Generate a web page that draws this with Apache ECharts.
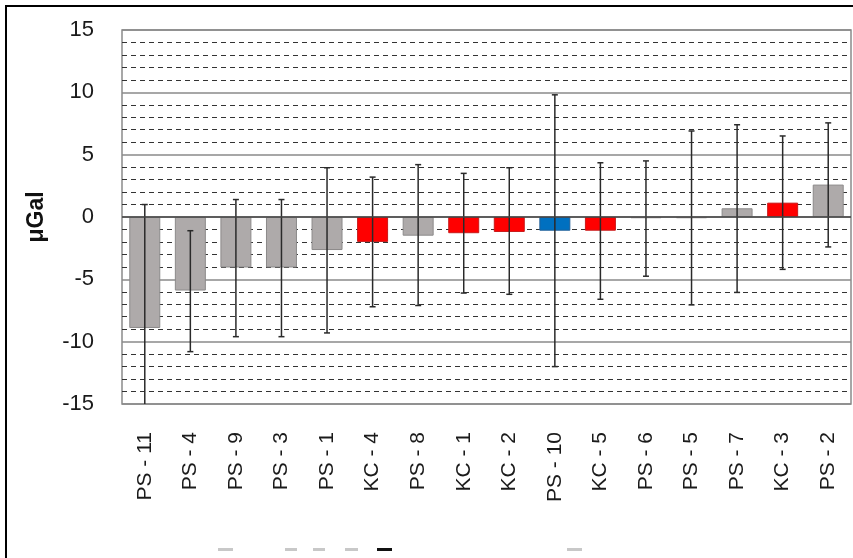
<!DOCTYPE html>
<html>
<head>
<meta charset="utf-8">
<script src="https://cdn.jsdelivr.net/npm/echarts@6/dist/echarts.min.js"></script>
<style>
  html, body { margin: 0; padding: 0; background: #fff; }
  #chart { width: 853px; height: 558px; }
</style>
</head>
<body>
<div id="chart"></div>
<script>
// sites, in the order of the picture
const sites = ['PS - 11', 'PS - 4', 'PS - 9', 'PS - 3', 'PS - 1', 'KC - 4', 'PS - 8', 'KC - 1',
  'KC - 2', 'PS - 10', 'KC - 5', 'PS - 6', 'PS - 5', 'PS - 7', 'KC - 3', 'PS - 2'];
// gravity change, µGal
const values = [-8.9, -5.9, -4.05, -4.05, -2.65, -2.0, -1.5, -1.3, -1.2, -1.1, -1.1, -0.1, -0.1, 0.7, 1.15, 2.6];
// error bar ends
const errHigh = [1.0, -1.1, 1.4, 1.4, 3.95, 3.2, 4.2, 3.5, 3.95, 9.8, 4.35, 4.5, 6.9, 7.4, 6.5, 7.55];
const errLow = [-18.8, -10.8, -9.6, -9.6, -9.3, -7.2, -7.1, -6.1, -6.2, -12.0, -6.6, -4.75, -7.05, -6.05, -4.2, -2.4];

function barColor(name) {
  if (name === 'PS - 10') return ['#0070c0', '#1f5f99'];
  if (name.indexOf('KC') === 0) return ['#ff0000', '#c81818'];
  return ['#aeaaaa', '#8c8a8a'];
}

const chart = echarts.init(document.getElementById('chart'));

const option = {
  animation: false,
  grid: { left: 122, right: 2, top: 30, bottom: 154, show: true, borderColor: '#8a8a8a', borderWidth: 1.5 },
  graphic: [
    { type: 'rect', z: -10, shape: { x: 6, y: 6, width: 900, height: 600 },
      style: { fill: 'none', stroke: '#000', lineWidth: 2 } },
    // cut-off legend keys at the bottom edge
    { type: 'rect', shape: { x: 218, y: 548, width: 15, height: 3 }, style: { fill: '#c8c8c8' } },
    { type: 'rect', shape: { x: 285, y: 548, width: 12, height: 3 }, style: { fill: '#c8c8c8' } },
    { type: 'rect', shape: { x: 313, y: 548, width: 12, height: 3 }, style: { fill: '#c8c8c8' } },
    { type: 'rect', shape: { x: 345, y: 548, width: 13, height: 3 }, style: { fill: '#c8c8c8' } },
    { type: 'rect', shape: { x: 377, y: 548, width: 15, height: 3 }, style: { fill: '#111' } },
    { type: 'rect', shape: { x: 567, y: 548, width: 15, height: 3 }, style: { fill: '#c8c8c8' } }
  ],
  xAxis: {
    type: 'category',
    data: sites,
    axisLine: { show: false },
    axisTick: { show: false },
    axisLabel: {
      interval: 0, rotate: 90, margin: 28,
      fontFamily: 'Liberation Sans', fontSize: 21, color: '#1a1a1a'
    }
  },
  yAxis: {
    type: 'value',
    min: -15, max: 15, interval: 5,
    name: 'μGal',
    nameLocation: 'middle',
    nameGap: 74,
    nameRotate: 90,
    nameTextStyle: { fontFamily: 'Liberation Sans', fontWeight: 'bold', fontSize: 23, color: '#111' },
    axisLine: { show: false },
    axisTick: { show: false },
    axisLabel: { margin: 28, fontFamily: 'Liberation Sans', fontSize: 22, color: '#1a1a1a' },
    splitLine: { show: true, lineStyle: { color: '#8a8a8a', width: 1.5 } },
    minorTick: { show: false, splitNumber: 5 },
    minorSplitLine: { show: true, lineStyle: { color: '#333', width: 1.2, type: [5, 4] } }
  },
  series: [
    {
      type: 'bar',
      barWidth: '68%',
      data: values.map((v, i) => {
        const c = barColor(sites[i]);
        return { value: v, itemStyle: { color: c[0], borderColor: c[1], borderWidth: 1 } };
      }),
      z: 2
    },
    {
      // zero line over the bars
      type: 'line',
      data: [],
      markLine: {
        silent: true, symbol: 'none', label: { show: false },
        lineStyle: { color: '#444', width: 1.5, type: 'solid' },
        data: [{ yAxis: 0 }]
      },
      z: 3
    },
    {
      type: 'custom',
      clip: true,
      z: 4,
      data: sites.map((s, i) => [i, errLow[i], errHigh[i]]),
      renderItem: function (params, api) {
        const x = api.value(0);
        const lo = api.coord([x, api.value(1)]);
        const hi = api.coord([x, api.value(2)]);
        const cap = 3;
        const style = { stroke: '#2a2a2a', lineWidth: 1.5 };
        return {
          type: 'group',
          children: [
            { type: 'line', shape: { x1: lo[0], y1: lo[1], x2: hi[0], y2: hi[1] }, style: style },
            { type: 'line', shape: { x1: hi[0] - cap, y1: hi[1], x2: hi[0] + cap, y2: hi[1] }, style: style },
            { type: 'line', shape: { x1: lo[0] - cap, y1: lo[1], x2: lo[0] + cap, y2: lo[1] }, style: style }
          ]
        };
      }
    }
  ]
};

chart.setOption(option);
</script>
</body>
</html>
